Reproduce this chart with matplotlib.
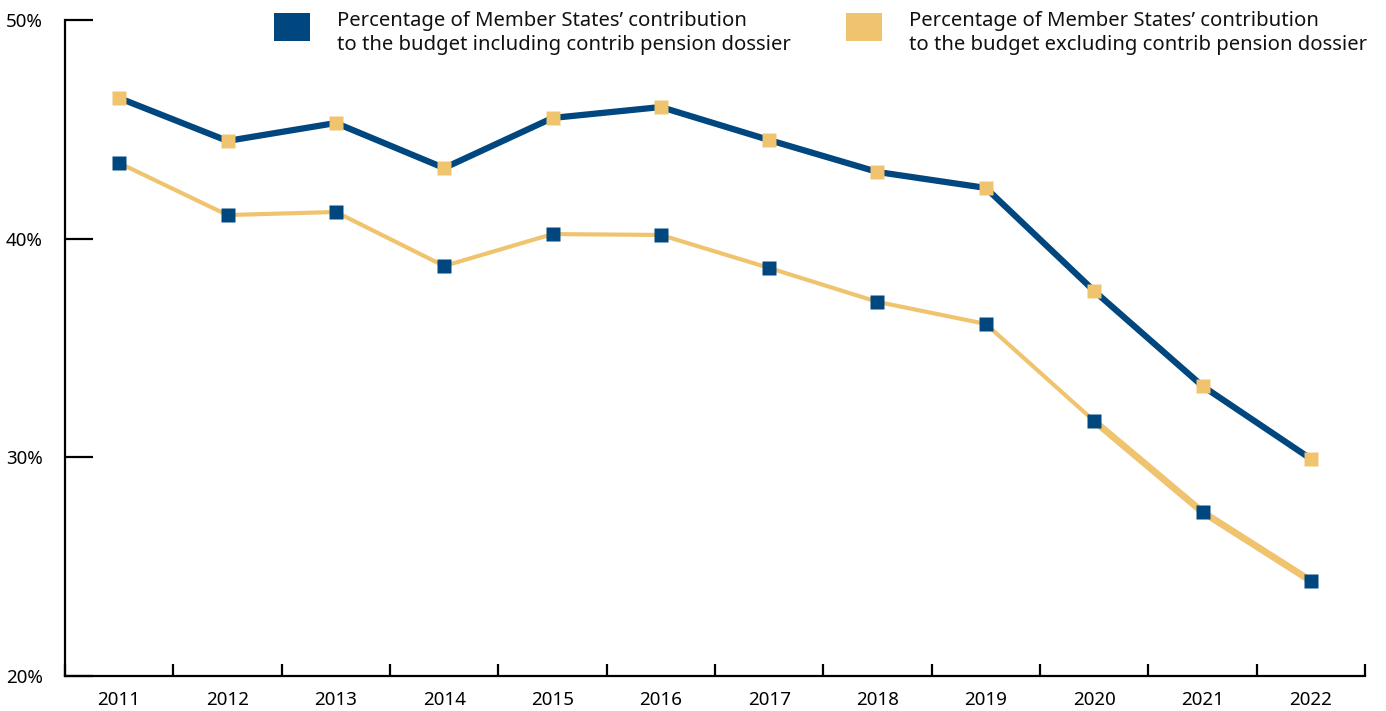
import matplotlib
matplotlib.use("Agg")
import matplotlib.pyplot as plt
from matplotlib.patches import Rectangle
import numpy as np

years = ["2011", "2012", "2013", "2014", "2015", "2016", "2017", "2018", "2019", "2020", "2021", "2022"]
incl_pension = [46.43, 44.47, 45.29, 43.23, 45.52, 46.02, 44.51, 43.05, 42.32, 37.61, 33.26, 29.93]
excl_pension = [43.46, 41.08, 41.22, 38.75, 40.21, 40.17, 38.66, 37.11, 36.10, 31.66, 27.50, 24.35]
y_ticks = [20, 30, 40, 50]
y_tick_labels = ["20%", "30%", "40%", "50%"]
legend_labels = [
    "Percentage of Member States\u2019 contribution\nto the budget including contrib pension dossier",
    "Percentage of Member States\u2019 contribution\nto the budget excluding contrib pension dossier",
]

BLUE = "#00467F"
YELLOW = "#F0C46F"

plt.rcParams['font.family'] = ['Noto Sans', 'DejaVu Sans']

W, H = 1386, 711
fig = plt.figure(figsize=(W / 100, H / 100), dpi=100)
ax = fig.add_axes([65 / W, (H - 676) / H, (1365 - 65) / W, (676 - 20) / H])

x = np.arange(len(years))

# yellow line (excluding) - thinner until 2020, thicker afterwards
split = 9
ax.plot(x[:split + 1], excl_pension[:split + 1], color=YELLOW, lw=3.0,
        solid_capstyle='butt', zorder=2)
ax.plot(x[split:], excl_pension[split:], color=YELLOW, lw=5.0,
        solid_capstyle='butt', zorder=2)
ax.plot(x, excl_pension, ls='none', marker='s', ms=10, mfc=BLUE, mec='none', zorder=4)

# blue line (including)
ax.plot(x, incl_pension, color=BLUE, lw=4.5, zorder=3)
ax.plot(x, incl_pension, ls='none', marker='s', ms=10, mfc=YELLOW, mec='none', zorder=4)

ax.set_xlim(-0.5, len(years) - 0.5)
ax.set_ylim(20, 50)

for s in ['top', 'right']:
    ax.spines[s].set_visible(False)
for s in ['left', 'bottom']:
    ax.spines[s].set_linewidth(1.6)
    ax.spines[s].set_color('black')

ax.set_yticks(y_ticks)
ax.set_yticklabels(y_tick_labels)
ax.tick_params(axis='y', direction='in', length=20, width=1.6, pad=16,
               labelsize=13.5, colors='black')

ax.set_xticks(np.arange(len(years) + 1) - 0.5)
ax.set_xticklabels([])
ax.tick_params(axis='x', which='major', direction='in', length=9, width=1.6)
ax.set_xticks(x, minor=True)
ax.set_xticklabels(years, minor=True)
ax.tick_params(axis='x', which='minor', length=0, pad=11, labelsize=13.5)

# legend (manual)
fig.add_artist(Rectangle((274 / W, (H - 41) / H), 36 / W, 28 / H,
                         transform=fig.transFigure, color=BLUE, lw=0))
fig.text(337 / W, (H - 33) / H, legend_labels[0], fontsize=14.6,
         va='center', ha='left', linespacing=1.25, color='#111111')
fig.add_artist(Rectangle((846 / W, (H - 41) / H), 36 / W, 28 / H,
                         transform=fig.transFigure, color=YELLOW, lw=0))
fig.text(909 / W, (H - 33) / H, legend_labels[1], fontsize=14.6,
         va='center', ha='left', linespacing=1.25, color='#111111')

fig.savefig("out.png", dpi=100)
